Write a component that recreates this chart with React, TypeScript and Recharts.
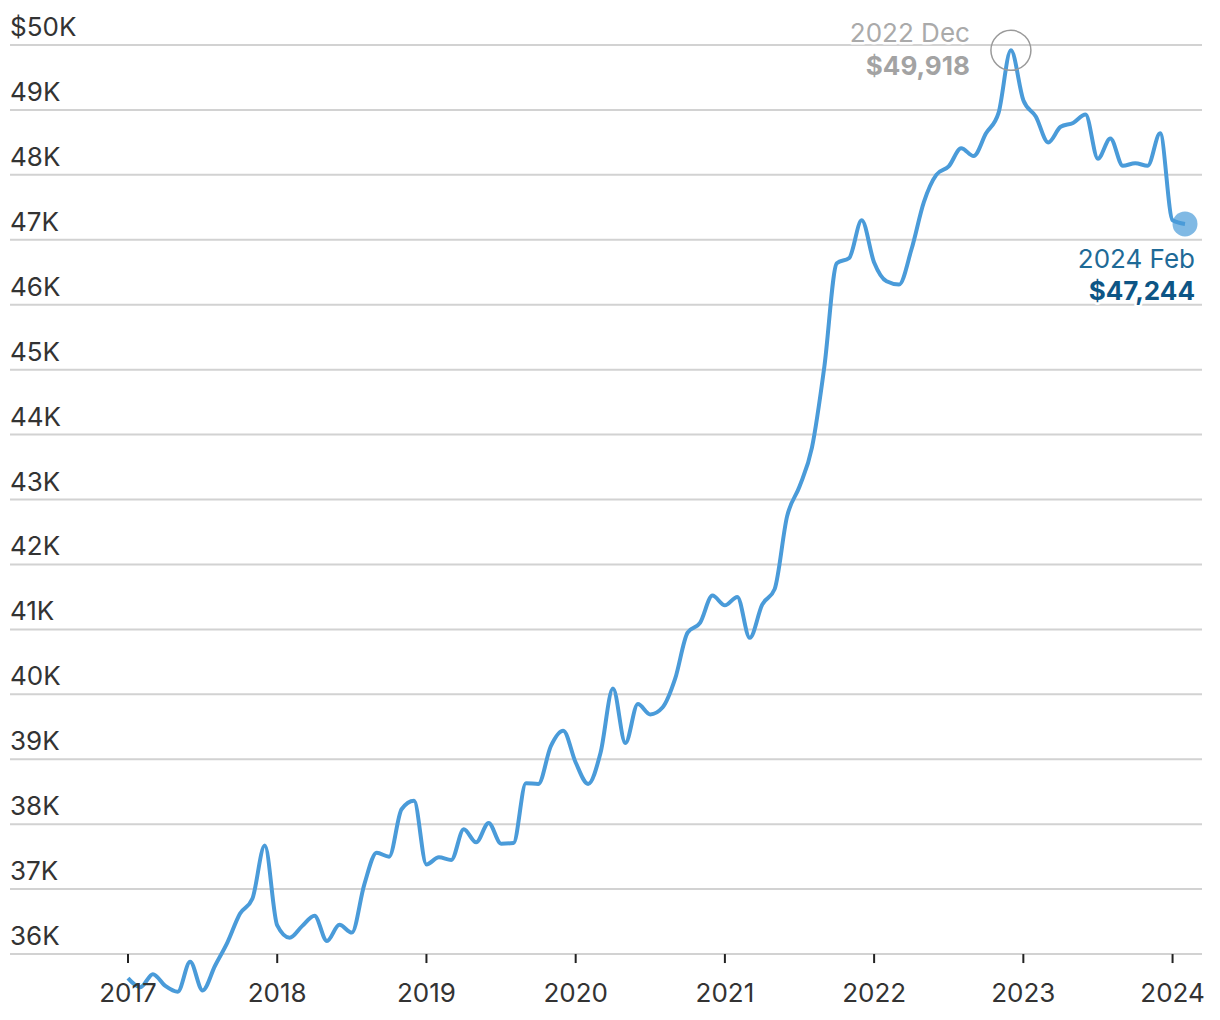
import { LineChart, Line, XAxis, YAxis, CartesianGrid, ReferenceDot } from 'recharts'

const FONT = 'Inter, Lato, sans-serif'

const YEARS = [2017, 2018, 2019, 2020, 2021, 2022, 2023, 2024]
const MONTHS = ['Jan', 'Feb', 'Mar', 'Apr', 'May', 'Jun', 'Jul', 'Aug', 'Sep', 'Oct', 'Nov', 'Dec']

// monthly price
const PRICES_2017 = [35630, 35490, 35690, 35510, 35420, 35880, 35440, 35820, 36180, 36620, 36850, 37670]
const PRICES_2018 = [36440, 36250, 36430, 36590, 36200, 36450, 36330, 37070, 37560, 37500, 38230, 38360]
const PRICES_2019 = [37380, 37490, 37450, 37920, 37720, 38020, 37700, 37710, 38630, 38620, 39200, 39440]
const PRICES_2020 = [38950, 38620, 39100, 40090, 39250, 39850, 39690, 39800, 40240, 40950, 41100, 41520]
const PRICES_2021 = [41370, 41500, 40870, 41380, 41620, 42740, 43200, 43800, 45050, 46640, 46720, 47300]
const PRICES_2022 = [46650, 46360, 46310, 46850, 47580, 48000, 48130, 48410, 48290, 48640, 48950, 49918]
const PRICES_2023 = [49150, 48900, 48500, 48740, 48800, 48930, 48250, 48560, 48140, 48180, 48140, 48640]
const PRICES_2024 = [47300, 47244]

const Y_TICKS = [36000, 37000, 38000, 39000, 40000, 41000, 42000, 43000, 44000, 45000, 46000, 47000, 48000, 49000, 50000]
const X_TICKS = YEARS.map((y) => `${y} Jan`)

const PEAK = { month: '2022 Dec', value: 49918 }
const LATEST = { month: '2024 Feb', value: 47244 }

const PRICES = [
  ...PRICES_2017, ...PRICES_2018, ...PRICES_2019, ...PRICES_2020,
  ...PRICES_2021, ...PRICES_2022, ...PRICES_2023, ...PRICES_2024,
]
const CATEGORIES = YEARS.flatMap((y) => MONTHS.map((m) => `${y} ${m}`)).slice(0, PRICES.length)
const data = CATEGORIES.map((month, i) => ({ month, value: PRICES[i] }))

const W = 1210
const MARGIN = { top: 37, right: 16, bottom: 0, left: 2 }
const Y_MIN = 35400
const Y_MAX = 50000
const PLOT_H = 948
const X_AXIS_H = 20
const H = MARGIN.top + PLOT_H + X_AXIS_H
// distance from the plot bottom up to the lowest gridline, where the year ticks sit
const AXIS_LIFT = (PLOT_H * (Y_TICKS[0] - Y_MIN)) / (Y_MAX - Y_MIN)

const LINE = '#4a9bd9'
const TEXT = '#333'
const SIZE = 26
const money = (v: number) => '$' + v.toLocaleString('en-US')
const kLabel = (v: number) => (v === Y_MAX ? '$' : '') + v / 1000 + 'K'

function YTick({ x, y, payload }: any) {
  return (
    <text x={x} y={y - 9} fill={TEXT} fontSize={SIZE} fontFamily={FONT} textAnchor="start">
      {kLabel(payload.value)}
    </text>
  )
}

function XTick({ x, y, payload }: any) {
  const base = y - AXIS_LIFT
  return (
    <g>
      <line x1={x} x2={x} y1={base} y2={base + 9} stroke="#222" strokeWidth={2} />
      <text x={x} y={base + 48} fill={TEXT} fontSize={SIZE} fontFamily={FONT} textAnchor="middle">
        {String(payload.value).slice(0, 4)}
      </text>
    </g>
  )
}

const halo = { stroke: '#fff', strokeWidth: 5, paintOrder: 'stroke' as const, strokeLinejoin: 'round' as const }

function PeakMark({ cx, cy }: any) {
  return (
    <g fontFamily={FONT} fontSize={SIZE}>
      <circle cx={cx} cy={cy} r={20} fill="none" stroke="#9a9a9a" strokeWidth={1.5} />
      <text x={cx - 41} y={cy - 8} textAnchor="end" fill="#aaa" {...halo}>
        {PEAK.month}
      </text>
      <text x={cx - 41} y={cy + 25} textAnchor="end" fill="#a3a3a3" fontWeight={700} {...halo}>
        {money(PEAK.value)}
      </text>
    </g>
  )
}

function LatestMark({ cx, cy }: any) {
  return (
    <g fontFamily={FONT} fontSize={SIZE}>
      <circle cx={cx} cy={cy} r={12.5} fill={LINE} fillOpacity={0.7} />
      <text x={cx + 10} y={cy + 44} textAnchor="end" fill="#1e6a97" {...halo}>
        {LATEST.month}
      </text>
      <text x={cx + 10} y={cy + 76} textAnchor="end" fill="#0d5585" fontWeight={700} {...halo}>
        {money(LATEST.value)}
      </text>
    </g>
  )
}

export default function App() {
  return (
    <div style={{ fontFamily: FONT }}>
      <LineChart width={W} height={H} data={data} margin={MARGIN}>
        <CartesianGrid vertical={false} syncWithTicks stroke="#d2d2d2" strokeWidth={2} />
        <XAxis
          dataKey="month"
          ticks={X_TICKS}
          interval={0}
          height={X_AXIS_H}
          padding={{ left: 118, right: 17 }}
          axisLine={false}
          tickLine={false}
          tickSize={0}
          tickMargin={0}
          tick={<XTick />}
        />
        <YAxis
          type="number"
          domain={[Y_MIN, Y_MAX]}
          ticks={Y_TICKS}
          mirror
          axisLine={false}
          tickLine={false}
          tickSize={0}
          tickMargin={0}
          tick={<YTick />}
        />
        <Line
          type="monotone"
          dataKey="value"
          stroke={LINE}
          strokeWidth={4}
          dot={false}
          activeDot={false}
          isAnimationActive={false}
        />
        <ReferenceDot x={PEAK.month} y={PEAK.value} r={20} shape={<PeakMark />} />
        <ReferenceDot x={LATEST.month} y={LATEST.value} r={12.5} shape={<LatestMark />} />
      </LineChart>
    </div>
  )
}
